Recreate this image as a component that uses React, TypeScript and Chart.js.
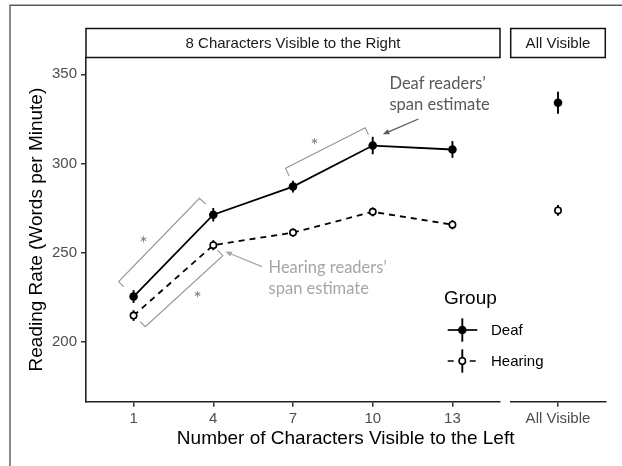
import React, { useEffect, useRef } from "react";
import { Chart, registerables } from "chart.js";

Chart.register(...registerables);

// Mean reading rate (words per minute) by characters visible left of fixation
const leftWindow = [1, 4, 7, 10, 13];
const deafRate = [225.3, 271.2, 287.0, 310.0, 307.8];
const deafSE = [3.6, 3.8, 3.3, 4.9, 4.7];
const hearingRate = [214.6, 254.1, 261.2, 272.8, 265.6];
const hearingSE = [3.0, 2.8, 2.3, 2.5, 2.6];

// Unrestricted (whole line visible) condition
const allVisibleLabel = ["All Visible"];
const deafAllVisible = [334.0];
const deafAllVisibleSE = [6.2];
const hearingAllVisible = [273.6];
const hearingAllVisibleSE = [3.0];

const yTickValues = [200, 250, 300, 350];
const Y_RANGE = [166.3, 359.4];
const X_RANGE = [-0.79, 14.79];

const groups = ["Deaf", "Hearing"];
const stripTitles = ["8 Characters Visible to the Right", "All Visible"];
const xTitle = "Number of Characters Visible to the Left";
const yTitle = "Reading Rate (Words per Minute)";
const legendTitle = "Group";

// Significance brackets in data units (end tick, corner, corner, end tick)
const brackets = [
  [[0.62, 230.9], [0.44, 233.7], [3.48, 280.4], [3.72, 277.1]],
  [[1.25, 211.2], [1.44, 208.4], [4.36, 248.2], [4.16, 251.4]],
  [[6.85, 293.0], [6.72, 297.3], [9.72, 320.0], [9.84, 316.0]],
];
const stars = [[1.38, 257.1], [3.41, 226.2], [7.81, 312.2]];

// Span-estimate callouts: text lines, left x, baselines, arrow from -> to
const callouts = [
  {
    lines: ["Deaf readers’", "span estimate"],
    x: 10.63,
    baselines: [341.7, 329.7],
    arrow: [[11.72, 324.9], [10.38, 316.3]],
    color: "#595959",
  },
  {
    lines: ["Hearing readers’", "span estimate"],
    x: 6.08,
    baselines: [238.4, 226.5],
    arrow: [[5.83, 242.1], [4.45, 250.5]],
    color: "#a6a6a6",
  },
];

const W = 622;
const H = 466;
const PANEL_TOP = 57.5;
const PANEL_BOTTOM = 401.7;
const PANEL_LEFT = 86;
const PANEL_RIGHT = 500;
const ALL_LEFT = 510.7;
const ALL_RIGHT = 605.3;
const STRIP_TOP = 28.5;

const SANS = "'Liberation Sans', Arial, sans-serif";
const NOTE = "Lato, 'Open Sans', sans-serif";
const INK = "#1a1a1a";
const TICK_INK = "#4d4d4d";

function axisStyle() {
  return {
    grid: {
      display: true,
      drawOnChartArea: false,
      drawTicks: true,
      tickLength: 5,
      tickWidth: 1.5,
      tickColor: "#333333",
      lineWidth: 1.5,
      color: "#333333",
    },
    border: { display: true, color: "#222222", width: 1.6 },
  };
}

function drawStrip(ctx: CanvasRenderingContext2D, left: number, right: number, top: number, bottom: number, text: string) {
  ctx.save();
  ctx.fillStyle = "#ffffff";
  ctx.fillRect(left, top, right - left, bottom - top);
  ctx.strokeStyle = "#111111";
  ctx.lineWidth = 1.5;
  ctx.strokeRect(left, top, right - left, bottom - top);
  ctx.fillStyle = INK;
  ctx.font = `15px ${SANS}`;
  ctx.textAlign = "center";
  ctx.textBaseline = "middle";
  ctx.fillText(text, (left + right) / 2, (top + bottom) / 2 + 1);
  ctx.restore();
}

function errorBarPlugin(seList: number[][]) {
  return {
    id: "errorBars",
    beforeDatasetsDraw(chart: any) {
      const ctx = chart.ctx as CanvasRenderingContext2D;
      const ys = chart.scales.y;
      ctx.save();
      ctx.strokeStyle = "#000000";
      ctx.lineWidth = 1.9;
      chart.data.datasets.forEach((ds: any, i: number) => {
        const meta = chart.getDatasetMeta(i);
        meta.data.forEach((el: any, j: number) => {
          const raw = ds.data[j];
          const v = typeof raw === "number" ? raw : raw.y;
          const se = seList[i][j];
          ctx.beginPath();
          ctx.moveTo(el.x, ys.getPixelForValue(v - se));
          ctx.lineTo(el.x, ys.getPixelForValue(v + se));
          ctx.stroke();
        });
      });
      ctx.restore();
    },
  };
}

function drawArrow(ctx: CanvasRenderingContext2D, x0: number, y0: number, x1: number, y1: number, color: string) {
  const ang = Math.atan2(y1 - y0, x1 - x0);
  const head = 7;
  const spread = 0.38;
  ctx.save();
  ctx.strokeStyle = color;
  ctx.fillStyle = color;
  ctx.lineWidth = 1.3;
  ctx.beginPath();
  ctx.moveTo(x0, y0);
  ctx.lineTo(x1 - Math.cos(ang) * head * 0.8, y1 - Math.sin(ang) * head * 0.8);
  ctx.stroke();
  ctx.beginPath();
  ctx.moveTo(x1, y1);
  ctx.lineTo(x1 - head * Math.cos(ang - spread), y1 - head * Math.sin(ang - spread));
  ctx.lineTo(x1 - head * Math.cos(ang + spread), y1 - head * Math.sin(ang + spread));
  ctx.closePath();
  ctx.fill();
  ctx.restore();
}

const decorations = {
  id: "decorations",
  afterDraw(chart: any) {
    const ctx = chart.ctx as CanvasRenderingContext2D;
    const xs = chart.scales.x;
    const ys = chart.scales.y;
    const area = chart.chartArea;
    const px = (p: number[]) => [xs.getPixelForValue(p[0]), ys.getPixelForValue(p[1])];

    ctx.save();
    // outer frame
    ctx.strokeStyle = "#5a5a5a";
    ctx.lineWidth = 1.4;
    ctx.beginPath();
    ctx.moveTo(10, H);
    ctx.lineTo(10, 5.3);
    ctx.lineTo(W, 5.3);
    ctx.stroke();

    drawStrip(ctx, area.left, area.right, STRIP_TOP, area.top, stripTitles[0]);

    // axis titles
    ctx.fillStyle = "#000000";
    ctx.font = `19px ${SANS}`;
    ctx.textAlign = "center";
    ctx.textBaseline = "middle";
    ctx.fillText(xTitle, (PANEL_LEFT + ALL_RIGHT) / 2, 438.5);
    ctx.save();
    ctx.translate(36.5, (area.top + area.bottom) / 2);
    ctx.rotate(-Math.PI / 2);
    ctx.fillText(yTitle, 0, 0);
    ctx.restore();

    // significance brackets
    ctx.strokeStyle = "#939393";
    ctx.lineWidth = 1.1;
    brackets.forEach((b) => {
      ctx.beginPath();
      b.forEach((p, k) => {
        const [x, y] = px(p);
        if (k === 0) ctx.moveTo(x, y);
        else ctx.lineTo(x, y);
      });
      ctx.stroke();
    });
    ctx.fillStyle = "#7a7a7a";
    ctx.font = `19px ${NOTE}`;
    ctx.textAlign = "center";
    ctx.textBaseline = "alphabetic";
    stars.forEach((s) => {
      const [x, y] = px(s);
      ctx.fillText("*", x, y + 10.5);
    });

    // callouts
    callouts.forEach((c) => {
      const [a0, a1] = c.arrow;
      const p0 = px(a0);
      const p1 = px(a1);
      drawArrow(ctx, p0[0], p0[1], p1[0], p1[1], c.color);
      ctx.fillStyle = c.color;
      ctx.font = `16.5px ${NOTE}`;
      ctx.textAlign = "left";
      ctx.textBaseline = "alphabetic";
      c.lines.forEach((t, k) => {
        ctx.fillText(t, xs.getPixelForValue(c.x), ys.getPixelForValue(c.baselines[k]));
      });
    });

    // legend
    ctx.fillStyle = "#000000";
    ctx.font = `19px ${SANS}`;
    ctx.textAlign = "left";
    ctx.textBaseline = "middle";
    ctx.fillText(legendTitle, 444, 298.5);
    const keyX = 462.3;
    const rows = [330, 361];
    rows.forEach((ry, k) => {
      ctx.strokeStyle = "#000000";
      ctx.lineWidth = 1.7;
      ctx.setLineDash(k === 0 ? [] : [6, 5]);
      ctx.beginPath();
      ctx.moveTo(447.7, ry);
      ctx.lineTo(477.3, ry);
      ctx.stroke();
      ctx.setLineDash([]);
      ctx.lineWidth = 1.9;
      ctx.beginPath();
      ctx.moveTo(keyX, ry - 11.7);
      ctx.lineTo(keyX, ry + 11.7);
      ctx.stroke();
      ctx.beginPath();
      if (k === 0) {
        ctx.arc(keyX, ry, 4.3, 0, Math.PI * 2);
        ctx.fillStyle = "#000000";
        ctx.fill();
      } else {
        ctx.arc(keyX, ry, 3.2, 0, Math.PI * 2);
        ctx.fillStyle = "#ffffff";
        ctx.fill();
        ctx.lineWidth = 1.6;
        ctx.stroke();
      }
      ctx.fillStyle = "#000000";
      ctx.font = `15px ${SANS}`;
      ctx.fillText(groups[k], 491, ry + 1);
    });
    ctx.restore();
  },
};

const allVisibleStrip = {
  id: "allVisibleStrip",
  afterDraw(chart: any) {
    const area = chart.chartArea;
    drawStrip(chart.ctx, area.left, area.right, STRIP_TOP, area.top, stripTitles[1]);
  },
};

export default function App() {
  const leftRef = useRef<HTMLCanvasElement>(null);
  const rightRef = useRef<HTMLCanvasElement>(null);

  useEffect(() => {
    const tickFont = { family: SANS, size: 15 };

    const windowChart = new Chart(leftRef.current as HTMLCanvasElement, {
      type: "line",
      data: {
        datasets: [
          {
            label: groups[0],
            data: leftWindow.map((x, i) => ({ x, y: deafRate[i] })),
            borderColor: "#000000",
            borderWidth: 1.8,
            pointRadius: 4.3,
            pointBackgroundColor: "#000000",
            pointBorderColor: "#000000",
            pointBorderWidth: 0,
            tension: 0,
          },
          {
            label: groups[1],
            data: leftWindow.map((x, i) => ({ x, y: hearingRate[i] })),
            borderColor: "#000000",
            borderWidth: 1.8,
            borderDash: [6, 5],
            pointRadius: 3.2,
            pointBackgroundColor: "#ffffff",
            pointBorderColor: "#000000",
            pointBorderWidth: 1.6,
            tension: 0,
          },
        ],
      },
      options: {
        animation: false,
        responsive: false,
        devicePixelRatio: 1,
        events: [],
        layout: { padding: { left: 0, top: PANEL_TOP, right: W - PANEL_RIGHT, bottom: 0 } },
        plugins: { legend: { display: false }, tooltip: { enabled: false } },
        scales: {
          x: {
            type: "linear",
            min: X_RANGE[0],
            max: X_RANGE[1],
            ...axisStyle(),
            ticks: { font: tickFont, color: TICK_INK, padding: 3 },
            afterBuildTicks: (s: any) => {
              s.ticks = leftWindow.map((v) => ({ value: v }));
            },
            afterFit: (s: any) => {
              s.height = H - PANEL_BOTTOM;
            },
          },
          y: {
            type: "linear",
            min: Y_RANGE[0],
            max: Y_RANGE[1],
            ...axisStyle(),
            ticks: { font: tickFont, color: TICK_INK, padding: 4 },
            afterBuildTicks: (s: any) => {
              s.ticks = yTickValues.map((v) => ({ value: v }));
            },
            afterFit: (s: any) => {
              s.width = PANEL_LEFT;
            },
          },
        },
      } as any,
      plugins: [errorBarPlugin([deafSE, hearingSE]), decorations],
    });

    const allChart = new Chart(rightRef.current as HTMLCanvasElement, {
      type: "line",
      data: {
        labels: allVisibleLabel,
        datasets: [
          {
            label: groups[0],
            data: deafAllVisible,
            showLine: false,
            pointRadius: 4.3,
            pointBackgroundColor: "#000000",
            pointBorderColor: "#000000",
            pointBorderWidth: 0,
          },
          {
            label: groups[1],
            data: hearingAllVisible,
            showLine: false,
            pointRadius: 3.2,
            pointBackgroundColor: "#ffffff",
            pointBorderColor: "#000000",
            pointBorderWidth: 1.6,
          },
        ],
      },
      options: {
        animation: false,
        responsive: false,
        devicePixelRatio: 1,
        events: [],
        layout: { padding: { left: ALL_LEFT, top: PANEL_TOP, right: W - ALL_RIGHT, bottom: 0 } },
        plugins: { legend: { display: false }, tooltip: { enabled: false } },
        scales: {
          x: {
            type: "category",
            offset: true,
            ...axisStyle(),
            ticks: { font: tickFont, color: TICK_INK, padding: 3 },
            afterFit: (s: any) => {
              s.height = H - PANEL_BOTTOM;
            },
          },
          y: {
            type: "linear",
            display: false,
            min: Y_RANGE[0],
            max: Y_RANGE[1],
          },
        },
      } as any,
      plugins: [errorBarPlugin([deafAllVisibleSE, hearingAllVisibleSE]), allVisibleStrip],
    });

    return () => {
      windowChart.destroy();
      allChart.destroy();
    };
  }, []);

  return (
    <div style={{ position: "fixed", left: 0, top: 0, width: W, height: H, background: "#ffffff" }}>
      <canvas ref={leftRef} width={W} height={H} style={{ position: "absolute", left: 0, top: 0 }} />
      <canvas ref={rightRef} width={W} height={H} style={{ position: "absolute", left: 0, top: 0 }} />
    </div>
  );
}
